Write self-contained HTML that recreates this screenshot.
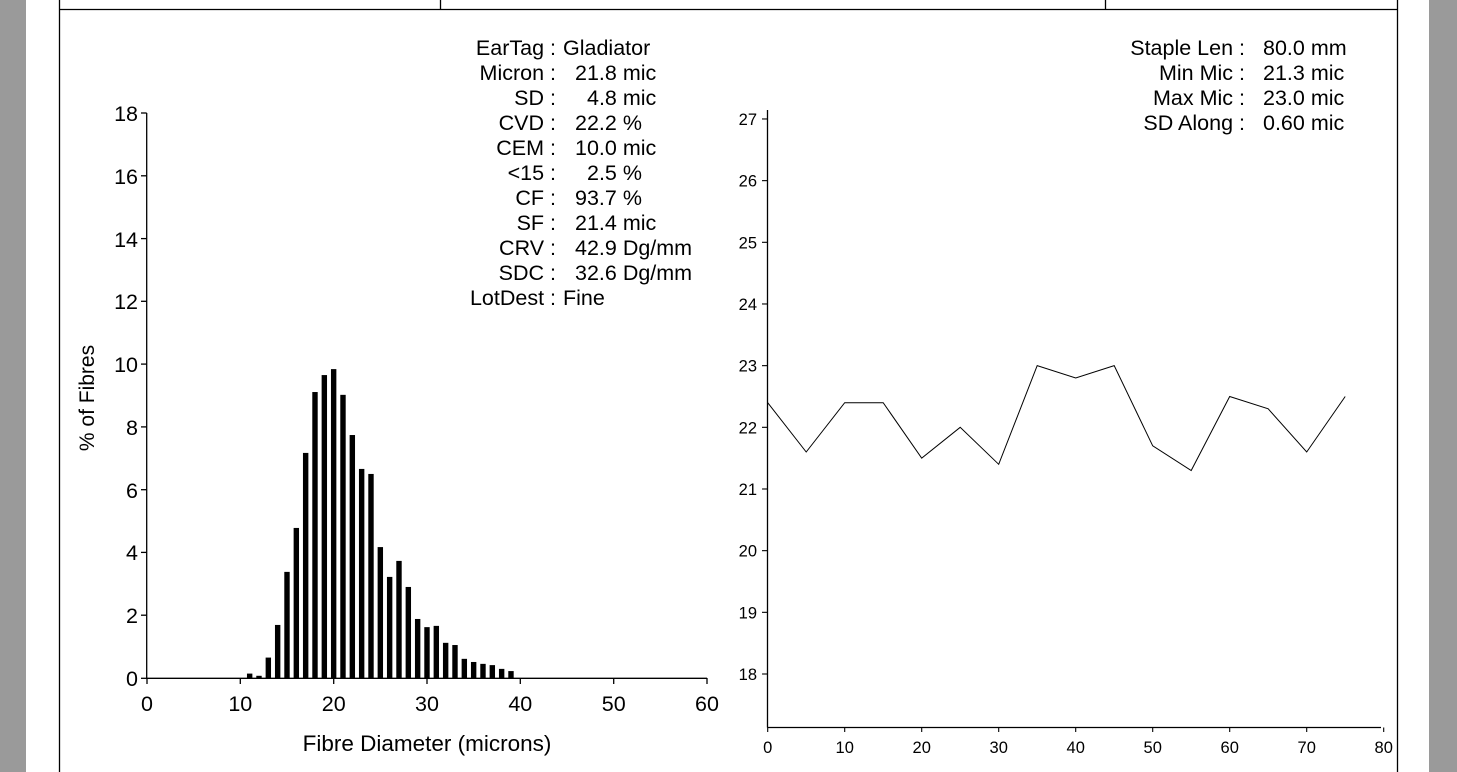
<!DOCTYPE html>
<html><head><meta charset="utf-8"><style>
html,body{margin:0;padding:0;background:#fff}
body{width:1457px;height:772px;overflow:hidden;position:relative}
svg{position:absolute;left:0;top:0}
text{font-family:"Liberation Sans",Arial,sans-serif;fill:#000}
</style></head><body>
<svg width="1457" height="772" xmlns="http://www.w3.org/2000/svg">
<rect x="0" y="0" width="26" height="772" fill="#9a9a9a"/>
<rect x="1429" y="0" width="28" height="772" fill="#9a9a9a"/>
<g stroke="#000" stroke-width="1.3" fill="none">
<line x1="59.5" y1="0" x2="59.5" y2="772"/>
<line x1="1397.5" y1="0" x2="1397.5" y2="772"/>
<line x1="59.5" y1="9.5" x2="1397.5" y2="9.5"/>
<line x1="440.5" y1="0" x2="440.5" y2="9.5"/>
<line x1="1105.5" y1="0" x2="1105.5" y2="9.5"/>
</g>
<g font-size="21.5">
<g text-anchor="end">
<text x="556" y="55">EarTag :</text><text x="556" y="80">Micron :</text><text x="556" y="105">SD :</text>
<text x="556" y="130">CVD :</text><text x="556" y="155">CEM :</text><text x="556" y="180">&lt;15 :</text>
<text x="556" y="205">CF :</text><text x="556" y="230">SF :</text><text x="556" y="255">CRV :</text>
<text x="556" y="280">SDC :</text><text x="556" y="305">LotDest :</text>
</g>
<text x="563" y="55">Gladiator</text><text x="575" y="80">21.8 mic</text><text x="587" y="105">4.8 mic</text>
<text x="575" y="130">22.2 %</text><text x="575" y="155">10.0 mic</text><text x="587" y="180">2.5 %</text>
<text x="575" y="205">93.7 %</text><text x="575" y="230">21.4 mic</text><text x="575" y="255">42.9 Dg/mm</text>
<text x="575" y="280">32.6 Dg/mm</text><text x="563" y="305">Fine</text>
<g text-anchor="end">
<text x="1245" y="55">Staple Len :</text><text x="1245" y="80">Min Mic :</text><text x="1245" y="105">Max Mic :</text><text x="1245" y="130">SD Along :</text>
</g>
<text x="1263" y="55">80.0 mm</text><text x="1263" y="80">21.3 mic</text><text x="1263" y="105">23.0 mic</text><text x="1263" y="130">0.60 mic</text>
</g>
<g stroke="#000" stroke-width="1.3">
<line x1="146.7" y1="113" x2="146.7" y2="678.3"/>
<line x1="146.7" y1="678.3" x2="707" y2="678.3"/>
<line x1="141" y1="113" x2="146.7" y2="113"/>
<line x1="141" y1="175.8" x2="146.7" y2="175.8"/>
<line x1="141" y1="238.6" x2="146.7" y2="238.6"/>
<line x1="141" y1="301.3" x2="146.7" y2="301.3"/>
<line x1="141" y1="364.1" x2="146.7" y2="364.1"/>
<line x1="141" y1="426.9" x2="146.7" y2="426.9"/>
<line x1="141" y1="489.7" x2="146.7" y2="489.7"/>
<line x1="141" y1="552.4" x2="146.7" y2="552.4"/>
<line x1="141" y1="615.2" x2="146.7" y2="615.2"/>
<line x1="141" y1="678.3" x2="146.7" y2="678.3"/>
<line x1="147" y1="678" x2="147" y2="684"/>
<line x1="240.3" y1="678" x2="240.3" y2="684"/>
<line x1="333.7" y1="678" x2="333.7" y2="684"/>
<line x1="427" y1="678" x2="427" y2="684"/>
<line x1="520.3" y1="678" x2="520.3" y2="684"/>
<line x1="613.7" y1="678" x2="613.7" y2="684"/>
<line x1="707" y1="678" x2="707" y2="684"/>
</g>
<g font-size="21.5" text-anchor="end">
<text x="138" y="121">18</text><text x="138" y="184">16</text><text x="138" y="247">14</text>
<text x="138" y="309">12</text><text x="138" y="372">10</text><text x="138" y="435">8</text>
<text x="138" y="498">6</text><text x="138" y="560">4</text><text x="138" y="623">2</text><text x="138" y="686">0</text>
</g>
<g font-size="21.5" text-anchor="middle">
<text x="147" y="711">0</text><text x="240.3" y="711">10</text><text x="333.7" y="711">20</text>
<text x="427" y="711">30</text><text x="520.3" y="711">40</text><text x="613.7" y="711">50</text><text x="707" y="711">60</text>
</g>
<text x="427" y="751" font-size="22.5" text-anchor="middle">Fibre Diameter (microns)</text>
<text transform="translate(94 398) rotate(-90)" font-size="21" text-anchor="middle">% of Fibres</text>
<g id="bars" fill="#000"></g>
<g stroke="#000" stroke-width="1.3">
<line x1="767.5" y1="110" x2="767.5" y2="727.5"/>
<line x1="767.5" y1="727.5" x2="1381" y2="727.5"/>
</g>
<g id="rt" stroke="#000" stroke-width="1.1"></g>
<g font-size="16.5" text-anchor="end" id="ryl"></g>
<g font-size="16.5" text-anchor="middle" id="rxl"></g>
<polyline id="pl" fill="none" stroke="#000" stroke-width="1"/>
</svg>
<script>
var ns="http://www.w3.org/2000/svg";
function el(t,a,p,txt){var e=document.createElementNS(ns,t);for(var k in a)e.setAttribute(k,a[k]);if(txt)e.textContent=txt;document.getElementById(p).appendChild(e);}
var h=[0.15,0.08,0.66,1.70,3.39,4.79,7.18,9.12,9.66,9.85,9.03,7.75,6.67,6.51,4.18,3.23,3.74,2.91,1.89,1.63,1.67,1.13,1.06,0.62,0.52,0.46,0.42,0.30,0.23];
for(var i=0;i<h.length;i++){var v=11+i;var cx=147+v*9.333;var hh=h[i]*31.39;el('rect',{x:cx-2.7,y:678.3-hh,width:5.4,height:hh},'bars');}
for(var y=18;y<=27;y++){var py=674-(y-18)*61.67;el('line',{x1:762,y1:py,x2:767.5,y2:py},'rt');el('text',{x:757,y:py+6},'ryl',String(y));}
for(var x=0;x<=80;x+=10){var px=767.7+x*7.7;el('line',{x1:px,y1:727.5,x2:px,y2:732},'rt');el('text',{x:px,y:753},'rxl',String(x));}
var d=[22.4,21.6,22.4,22.4,21.5,22.0,21.4,23.0,22.8,23.0,21.7,21.3,22.5,22.3,21.6,22.5];var pts=[];
for(var i=0;i<d.length;i++){pts.push((767.7+i*5*7.7).toFixed(1)+","+(674-(d[i]-18)*61.67).toFixed(1));}
document.getElementById('pl').setAttribute('points',pts.join(' '));
</script>
</body></html>
